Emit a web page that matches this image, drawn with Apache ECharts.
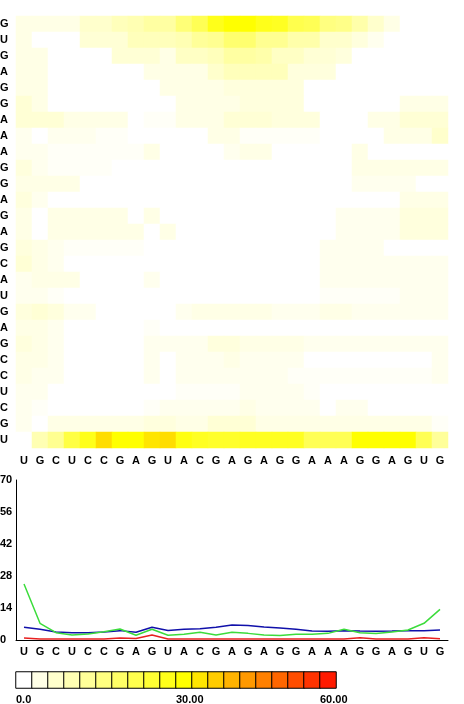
<!DOCTYPE html>
<html>
<head>
<meta charset="utf-8">
<script src="https://cdn.jsdelivr.net/npm/echarts@6/dist/echarts.min.js"></script>
<style>
  html, body { margin: 0; background: #fff; }
  #main { width: 464px; height: 704px; }
</style>
</head>
<body>
<div id="main"></div>
<script>
// sequence (x left->right, y bottom->top)
const seq = ['U','G','C','U','C','C','G','A','G','U','A','C','G','A','G','A','G','G','A','A','A','G','G','A','G','U','G']

// heatmap values, listed from the top row (G) down to the bottom row (U)
const matrix = [
  [3,3,3,3,6,6,8,9,11,11,16,20,27,30,30,27,26,21,20,15,14,10,6,3,0,0,0],
  [3,0,0,0,5,5,5,8,8,8,9,12,13,17,17,13,13,10,10,6,6,4,2,0,0,0,0],
  [3,3,0,0,0,0,5,5,5,3,7,7,8,11,11,10,7,7,5,5,4,0,0,0,0,0,0],
  [3,3,0,0,0,0,0,0,3,3,3,3,6,8,8,8,8,4,4,4,0,0,0,0,0,0,0],
  [3,3,0,0,0,0,0,0,0,3,3,3,3,4,4,4,4,4,0,0,0,0,0,0,0,0,0],
  [5,3,0,0,0,0,0,0,0,0,3,3,3,3,4,4,4,4,0,0,0,0,0,0,3,3,3],
  [5,5,5,3,3,3,3,0,1,1,3,3,3,5,5,5,4,4,4,0,0,0,3,3,5,5,5],
  [2,0,2,2,2,1,1,0,0,0,0,0,3,3,1,1,1,1,1,0,0,0,0,3,3,3,6],
  [2,2,1,1,1,1,1,1,3,0,0,0,0,2,3,3,0,0,0,0,0,3,0,0,0,0,0],
  [4,2,1,1,1,1,0,0,0,0,0,0,0,0,0,0,0,0,0,0,0,3,3,3,3,3,3],
  [3,3,3,3,0,0,0,0,0,0,0,0,0,0,0,0,0,0,0,0,0,2,2,2,2,0,0],
  [4,2,0,0,0,0,0,0,0,0,0,0,0,0,0,0,0,0,0,0,0,0,0,0,3,3,3],
  [3,0,3,3,3,3,3,0,3,0,0,0,0,0,0,0,0,0,0,0,2,2,2,2,4,4,4],
  [3,0,3,3,3,3,3,3,0,3,0,0,0,0,0,0,0,0,0,0,2,2,2,2,4,4,4],
  [4,3,2,1,1,1,1,1,0,0,0,0,0,0,0,0,0,0,0,2,2,2,2,0,0,0,0],
  [5,3,2,0,0,0,0,0,0,0,0,0,0,0,0,0,0,0,0,2,2,2,2,2,2,2,2],
  [2,3,3,3,0,0,0,0,2,0,0,0,0,0,0,0,0,0,0,2,2,2,2,2,2,2,2],
  [2,2,1,0,0,0,0,0,0,0,0,0,0,0,0,0,0,0,0,1,1,1,1,1,2,2,2],
  [4,5,4,2,2,0,0,0,0,0,2,3,3,3,3,3,2,2,2,3,3,2,2,2,2,2,2],
  [3,3,2,0,0,0,0,0,1,0,0,0,0,0,0,0,0,0,0,0,0,0,0,0,0,0,0],
  [4,3,2,0,0,0,0,0,2,2,2,2,4,4,3,3,3,3,2,2,2,2,2,2,2,2,2],
  [3,3,2,0,0,0,0,0,2,0,2,2,2,3,2,2,2,2,0,0,0,0,0,0,0,0,2],
  [3,2,2,0,0,0,0,0,2,0,2,2,2,2,2,2,2,1,1,1,1,1,1,1,1,1,2],
  [2,2,0,0,0,0,0,0,0,0,1,1,1,1,2,2,2,2,1,0,0,0,0,0,0,0,0],
  [2,1,0,0,0,0,0,0,1,2,2,2,2,2,3,2,2,2,2,0,2,2,0,0,0,0,0],
  [2,0,3,3,3,3,3,3,4,4,3,3,5,5,5,3,3,3,3,3,3,3,3,3,3,3,1],
  [0,9,13,22,27,34,30,30,33,34,28,26,25,25,26,26,26,26,20,20,20,30,30,30,30,20,12]
]

// profile lines
const blueLine  = [5.6,4.7,3.5,3.2,3.2,3.5,4.1,3.4,5.6,4.2,4.7,4.9,5.6,6.6,6.3,5.7,5.3,4.7,3.9,3.8,4.1,3.9,3.8,3.9,4.1,4.1,4.4]
const greenLine = [24.5,7.3,3.2,2.2,2.6,3.6,4.8,2.1,4.7,2.1,2.5,3.4,2.2,3.4,2.9,2.2,2.0,2.5,2.5,2.9,4.7,3.2,2.8,3.5,4.4,7.3,13.4]
const redLine   = [0.9,0.4,0.4,0.4,0.4,0.4,0.9,0.7,2.2,0.4,0.4,0.4,0.4,0.4,0.4,0.4,0.4,0.4,0.4,0.4,0.4,1.0,0.4,0.4,0.4,1.0,0.6]

// colour scale
const scaleSteps = [0,3,6,9,12,15,18,21,24,27,30,33,36,39,42,45,48,51,54,57]
const scaleLabelAt = [0, 10, 19]
const scaleLabels = ['0.0', '30.00', '60.00']

const heatData = []
matrix.forEach((row, r) => {
  row.forEach((v, c) => heatData.push([c, seq.length - 1 - r, v]))
})

const font = { fontFamily: '"Liberation Sans", Arial, sans-serif', fontWeight: 'bold', fontSize: 11, color: '#000' }
const black = { lineStyle: { color: '#000', width: 1 } }

echarts.init(document.getElementById('main')).setOption({
  animation: false,
  textStyle: { fontFamily: font.fontFamily },
  visualMap: {
    type: 'continuous',
    show: false,
    min: 0,
    max: 60,
    seriesIndex: [0, 1],
    inRange: { color: ['#ffffff', '#ffff00', '#ff0000'] },
  },
  grid: [
    { left: 16, top: 16, width: 432, height: 432, outerBoundsMode: 'none' },
    { left: 16, top: 480, width: 432, height: 160, outerBoundsMode: 'none' },
    { left: 16, top: 672, width: 320, height: 16, outerBoundsMode: 'none' },
  ],
  xAxis: [
    {
      gridIndex: 0, type: 'category', data: seq,
      axisLine: { show: false }, axisTick: { show: false },
      axisLabel: { ...font, margin: 7, interval: 0 },
    },
    {
      gridIndex: 1, type: 'category', data: seq,
      axisLine: black, axisTick: { show: false },
      axisLabel: { ...font, margin: 6, interval: 0 },
    },
    {
      gridIndex: 2, type: 'category', data: scaleSteps,
      axisLine: { show: false }, axisTick: { show: false }, axisLabel: { show: false },
    },
    {
      gridIndex: 2, type: 'value', min: 0, max: 20, interval: 1, position: 'bottom',
      axisLine: { show: false }, axisTick: { show: false }, splitLine: { show: false },
      axisLabel: {
        ...font, margin: 6, align: 'left',
        formatter: (v) => {
          const i = scaleLabelAt.indexOf(v)
          return i < 0 ? '' : scaleLabels[i]
        },
      },
    },
  ],
  yAxis: [
    {
      gridIndex: 0, type: 'category', data: seq,
      axisLine: { show: false }, axisTick: { show: false },
      axisLabel: { ...font, margin: 16, align: 'left', interval: 0 },
    },
    {
      gridIndex: 1, type: 'value', min: 0, max: 70, interval: 14,
      axisLine: { show: true, ...black }, axisTick: { show: false }, splitLine: { show: false },
      axisLabel: { ...font, margin: 16, align: 'left', padding: [0, 0, 6, 0] },
    },
    {
      gridIndex: 2, type: 'category', data: [''],
      axisLine: { show: false }, axisTick: { show: false }, axisLabel: { show: false },
    },
  ],
  series: [
    {
      type: 'heatmap', xAxisIndex: 0, yAxisIndex: 0, data: heatData,
    },
    {
      type: 'heatmap', xAxisIndex: 2, yAxisIndex: 2,
      data: scaleSteps.map((v, i) => [i, 0, v]),
      itemStyle: { borderColor: '#000', borderWidth: 1 },
    },
    {
      type: 'line', xAxisIndex: 1, yAxisIndex: 1, data: blueLine,
      symbol: 'none', lineStyle: { color: '#1010aa', width: 1.5 },
    },
    {
      type: 'line', xAxisIndex: 1, yAxisIndex: 1, data: greenLine,
      symbol: 'none', lineStyle: { color: '#3cdc3c', width: 1.5 },
    },
    {
      type: 'line', xAxisIndex: 1, yAxisIndex: 1, data: redLine,
      symbol: 'none', lineStyle: { color: '#e82020', width: 1.5 },
    },
  ],
})
</script>
</body>
</html>
